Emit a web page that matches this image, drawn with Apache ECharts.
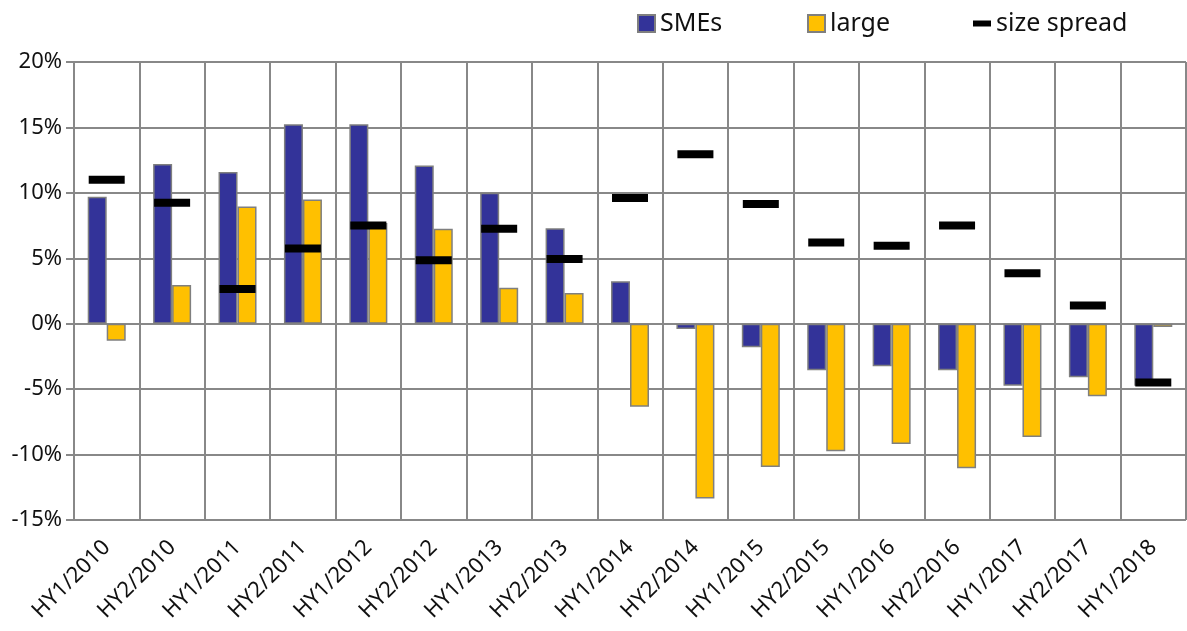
<!DOCTYPE html>
<html>
<head>
<meta charset="utf-8">
<script src="https://cdn.jsdelivr.net/npm/echarts@6/dist/echarts.min.js"></script>
<style>
html,body{margin:0;padding:0;background:#fff;}
#chart{width:1187px;height:631px;}
</style>
</head>
<body>
<div id="chart"></div>
<script>
const categories = ['HY1/2010','HY2/2010','HY1/2011','HY2/2011','HY1/2012','HY2/2012','HY1/2013','HY2/2013','HY1/2014','HY2/2014','HY1/2015','HY2/2015','HY1/2016','HY2/2016','HY1/2017','HY2/2017','HY1/2018'];
const smes = [9.7, 12.2, 11.6, 15.25, 15.25, 12.1, 10.0, 7.3, 3.25, -0.4, -1.8, -3.55, -3.25, -3.55, -4.75, -4.1, -4.75];
const large = [-1.3, 2.95, 8.95, 9.5, 7.7, 7.25, 2.75, 2.35, -6.35, -13.35, -10.95, -9.75, -9.2, -11.05, -8.65, -5.55, -0.25];
const spread = [11.0, 9.25, 2.65, 5.75, 7.5, 4.85, 7.25, 4.95, 9.6, 12.95, 9.15, 6.2, 5.95, 7.5, 3.85, 1.4, -4.5];
const yTicks = {min: -15, max: 20, interval: 5};

const FONT = '"Noto Sans", sans-serif';
const GRID = '#888888';
const chart = echarts.init(document.getElementById('chart'), null, {renderer: 'canvas'});
const legendText = {fontFamily: FONT, fontSize: 25, color: '#111'};
chart.setOption({
  animation: false,
  backgroundColor: '#fff',
  textStyle: {fontFamily: FONT},
  legend: [
    {data: ['SMEs'], left: 632, top: 6, itemWidth: 17, itemHeight: 17, textStyle: legendText, icon: 'rect'},
    {data: ['large'], left: 802, top: 6, itemWidth: 17, itemHeight: 17, textStyle: legendText, icon: 'rect'},
    {data: [{name: 'size spread', icon: 'path://M0,0 L18,0 L18,6 L0,6 Z'}], left: 968, top: 6, itemWidth: 18, itemHeight: 17, textStyle: legendText}
  ],
  grid: {left: 74, right: 1, top: 62, bottom: 111, containLabel: false},
  xAxis: {
    type: 'category',
    data: categories,
    boundaryGap: true,
    axisLine: {show: false},
    axisTick: {show: false},
    splitLine: {show: true, lineStyle: {color: GRID, width: 2}},
    axisLabel: {rotate: 45, fontSize: 22, color: '#111', fontFamily: FONT, margin: 24, interval: 0}
  },
  yAxis: {
    type: 'value',
    min: yTicks.min, max: yTicks.max, interval: yTicks.interval,
    axisLine: {show: true, lineStyle: {color: GRID, width: 2}},
    axisTick: {show: true, length: 8, lineStyle: {color: GRID, width: 2}},
    splitLine: {show: true, lineStyle: {color: GRID, width: 2}},
    axisLabel: {formatter: '{value}%', fontSize: 22, color: '#111', fontFamily: FONT, margin: 12}
  },
  series: [
    {name: 'SMEs', type: 'bar', data: smes, barWidth: 19, barGap: '0%',
     itemStyle: {color: '#333399', borderColor: '#7f7f7f', borderWidth: 1.5}},
    {name: 'large', type: 'bar', data: large, barWidth: 19, barGap: '0%',
     itemStyle: {color: '#FFC000', borderColor: '#7f7f7f', borderWidth: 1.5}},
    {name: 'size spread', type: 'scatter', data: spread, symbol: 'rect', symbolSize: [36, 8], z: 5,
     itemStyle: {color: '#000', opacity: 1}}
  ]
});
</script>
</body>
</html>
